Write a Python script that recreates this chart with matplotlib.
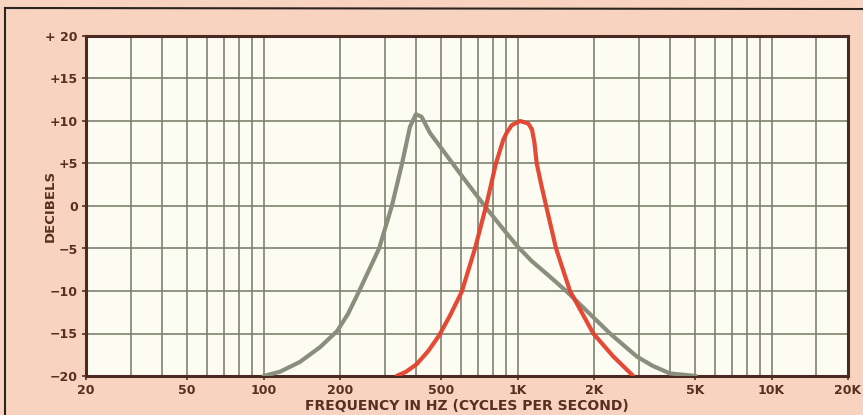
import matplotlib.pyplot as plt
import matplotlib.ticker as mticker
from matplotlib.lines import Line2D

# gray response curve (broad peak near 400 Hz)
gray_freq = [100, 116, 139, 167, 195, 215, 238, 285, 320, 351, 377, 398, 419,
             452, 612, 756, 872, 996, 1139, 1316, 1580, 2312, 2946, 3400, 3984, 5040]
gray_db = [-20, -19.5, -18.35, -16.6, -14.7, -12.7, -10.0, -5.0, 0.0, 5.0, 9.3,
           10.8, 10.5, 8.6, 3.3, -0.3, -2.6, -4.7, -6.5, -8.1, -10.2, -15.0,
           -17.7, -18.8, -19.7, -20]

# red response curve (narrow peak near 1 kHz)
red_freq = [334, 364, 401, 444, 492, 544, 603, 680, 752, 822, 879, 906, 948,
            1023, 1102, 1140, 1165, 1190, 1240, 1296, 1418, 1609, 1987, 2382, 2856]
red_db = [-20, -19.5, -18.6, -17.1, -15.2, -12.8, -10.1, -5.0, 0.0, 5.0, 7.8,
          8.6, 9.5, 10.0, 9.7, 9.0, 7.5, 5.0, 2.5, 0.0, -5.0, -10.0, -15.0, -17.7, -20]

x_ticks = [20, 50, 100, 200, 500, 1000, 2000, 5000, 10000, 20000]
x_labels = ['20', '50', '100', '200', '500', '1K', '2K', '5K', '10K', '20K']
x_grid = ([20, 30, 40, 50, 60, 70, 80, 90, 100] +
          [200, 300, 400, 500, 600, 700, 800, 900, 1000] +
          [2000, 3000, 4000, 5000, 6000, 7000, 8000, 9000, 10000, 15000, 20000])
y_ticks = [-20, -15, -10, -5, 0, 5, 10, 15, 20]
y_labels = ['\u221220', '\u221215', '\u221210', '\u22125', '0', '+5', '+10', '+15', '+ 20']

peach = '#f8d4c0'
ink = '#5a2e22'
grid_col = '#7d8270'

fig = plt.figure(figsize=(8.63, 4.15), dpi=100, facecolor=peach)
ax = fig.add_axes([86 / 863, 1 - 376 / 415, 762 / 863, 340 / 415])
ax.set_facecolor('#fcfcf2')

ax.set_xscale('log')
ax.set_xlim(20, 20000)
ax.set_ylim(-20, 20)

for f in x_grid:
    ax.axvline(f, color=grid_col, lw=1.2, zorder=1)
for d in y_ticks:
    ax.axhline(d, color=grid_col, lw=1.2, zorder=1)

ax.plot(gray_freq, gray_db, color='#8a8f7d', lw=3.0, solid_joinstyle='round',
        solid_capstyle='round', zorder=3)
ax.plot(red_freq, red_db, color='#e3402c', lw=3.0, alpha=0.95,
        solid_joinstyle='round', solid_capstyle='round', zorder=4)

ax.xaxis.set_major_locator(mticker.FixedLocator(x_ticks))
ax.xaxis.set_major_formatter(mticker.FixedFormatter(x_labels))
ax.xaxis.set_minor_locator(mticker.NullLocator())
ax.set_yticks(y_ticks)
ax.set_yticklabels(y_labels)

ax.tick_params(axis='both', colors=ink, labelcolor=ink, labelsize=9,
               length=3, width=1.2, direction='out')
ax.tick_params(axis='x', pad=3)
ax.tick_params(axis='y', pad=3)
for lab in ax.get_xticklabels() + ax.get_yticklabels():
    lab.set_fontweight('bold')

for sp in ax.spines.values():
    sp.set_color('#4a2a22')
    sp.set_linewidth(2.2)

ax.set_xlabel('FREQUENCY IN HZ (CYCLES PER SECOND)', color=ink, fontsize=10,
              fontweight='bold', labelpad=1)
ax.set_ylabel('DECIBELS', color=ink, fontsize=9.5, fontweight='bold')
ax.yaxis.set_label_coords(-0.039, 0.5)

# scanned page frame edges
fig.add_artist(Line2D([5 / 863, 1], [1 - 8 / 415, 1 - 9 / 415], color='#2b2420',
                      lw=1.5, transform=fig.transFigure))
fig.add_artist(Line2D([5 / 863, 5 / 863], [0, 1 - 8 / 415], color='#2b2420',
                      lw=1.5, transform=fig.transFigure))

fig.savefig('out.png', dpi=100, facecolor=peach)
